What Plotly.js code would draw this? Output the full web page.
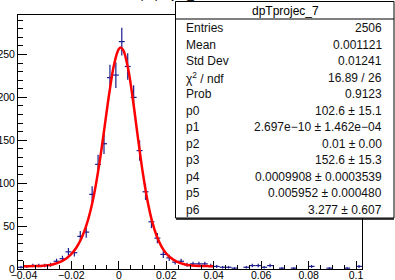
<!DOCTYPE html>
<html>
<head>
<meta charset="utf-8">
<script src="https://cdn.plot.ly/plotly-3.0.1.min.js"></script>
<style>html,body{margin:0;padding:0;background:#fff;}#chart{width:395px;height:280px;}</style>
</head>
<body>
<div id="chart"></div>
<script>
// Histogram definition (58 bins of width 0.0025 from -0.0425)
const binLow = -0.0425;
const binWidth = 0.0025;
const counts = [
  2, 3, 4, 4, 4, 5, 9, 12, 20, 19,
  38, 43, 87, 122, 146, 223, 226, 265, 236, 200,
  138, 90, 55, 36, 17, 13, 8, 9, 5, 6,
  6, 6, 4, 3, 2, 2, 1, 0, 2, 4,
  4, 2, 4, 0, 1, 0, 1, 0, 0, 3,
  0, 0, 1, 0, 0, 1, 0, 3
];

// Fit curve
const fitX = [-0.040,-0.038,-0.036,-0.034,-0.032,-0.030,-0.028,-0.026,-0.024,-0.022,
  -0.020,-0.018,-0.016,-0.014,-0.012,-0.010,-0.008,-0.006,-0.004,-0.002,
  0.000,0.001,0.002,0.004,0.006,0.008,0.010,0.012,0.014,0.016,
  0.018,0.020,0.022,0.024,0.026,0.028,0.030,0.032,0.034,0.036,0.038,0.040];
const fitY = [3.31,3.35,3.43,3.59,3.89,4.42,5.31,6.77,9.06,12.49,
  17.47,24.53,34.40,48.20,67.34,93.28,126.58,165.59,205.36,238.35,
  256.39,257.97,254.27,232.26,196.06,154.05,114.04,80.79,55.79,38.15,
  26.16,18.10,12.70,9.12,6.79,5.32,4.42,3.89,3.59,3.43,3.35,3.31];

const xTickVals = [-0.04,-0.02,0,0.02,0.04,0.06,0.08,0.1];
const xTickText = ["\u22120.04","\u22120.02","0","0.02","0.04","0.06","0.08","0.1"];
const yTickVals = [0,50,100,150,200,250];
const yTickText = ["0","50","100","150","200","250"];

const histTitle = "dpTprojec_7";
const statLabels = ["Entries","Mean","Std Dev","\u03C7<sup>2</sup> / ndf","Prob","p0","p1","p2","p3","p4","p5","p6"];
const statValues = ["2506","0.001121","0.01241","16.89 / 26","0.9123","102.6 \u00B1 15.1",
  "2.697e\u221210 \u00B1 1.462e\u221204","0.01 \u00B1 0.00","152.6 \u00B1 15.3",
  "0.0009908 \u00B1 0.0003539","0.005952 \u00B1 0.000480","3.277 \u00B1 0.607"];

// build point arrays from the histogram
const px = [], py = [], pe = [];
counts.forEach((c, k) => {
  if (c > 0) {
    px.push(binLow + binWidth * (k + 0.5));
    py.push(c);
    pe.push(Math.sqrt(c));
  }
});

// pixel -> paper helpers (plot area: x 18..362, y 15..269)
const L = 18, R = 33, T = 15, B = 11, W = 395, H = 280;
const pw = W - L - R, ph = H - T - B;
const X = p => (p - L) / pw;
const Y = p => (H - B - p) / ph;

const font = "Liberation Sans, Arial, Helvetica, sans-serif";
const dataColor = "#1c1c8c";

const traces = [
  {
    x: px, y: py, type: "scatter", mode: "markers",
    marker: {size: 1, opacity: 0, color: dataColor},
    error_y: {type: "data", array: pe, visible: true, width: 0, thickness: 1.2, color: dataColor},
    error_x: {type: "constant", value: binWidth / 2, visible: true, width: 0, thickness: 1.2, color: dataColor},
    hoverinfo: "skip", showlegend: false
  },
  {
    x: fitX, y: fitY, type: "scatter", mode: "lines",
    line: {color: "#ff0000", width: 2.5, shape: "spline"},
    hoverinfo: "skip", showlegend: false
  }
];

const annotations = [];
// truncated histogram title at top
annotations.push({xref: "paper", yref: "paper", x: X(167), y: Y(3), xanchor: "center", yanchor: "bottom",
  text: histTitle, showarrow: false, font: {family: font, size: 12, color: "#000"}});
// stats header
annotations.push({xref: "paper", yref: "paper", x: X(285), y: Y(10.5), xanchor: "center", yanchor: "middle",
  text: histTitle, showarrow: false, font: {family: font, size: 12, color: "#000"}});
const rowY0 = 28.3, rowStep = 16.5;
statLabels.forEach((lab, i) => {
  const yy = Y(rowY0 + rowStep * i);
  annotations.push({xref: "paper", yref: "paper", x: X(184), y: yy, xanchor: "left", yanchor: "middle",
    text: lab, showarrow: false, font: {family: font, size: 12, color: "#111"}});
  annotations.push({xref: "paper", yref: "paper", x: X(384), y: yy, xanchor: "right", yanchor: "middle",
    text: statValues[i], showarrow: false, font: {family: font, size: 12, color: "#111"}});
});

const shapes = [
  {type: "rect", xref: "paper", yref: "paper", x0: X(175.5), x1: X(394), y0: Y(218), y1: Y(1.5),
   fillcolor: "#fff", line: {color: "#000", width: 1}, layer: "above"},
  {type: "line", xref: "paper", yref: "paper", x0: X(175.5), x1: X(394), y0: Y(19), y1: Y(19),
   line: {color: "#000", width: 1}, layer: "above"},
  {type: "line", xref: "paper", yref: "paper", x0: X(176), x1: X(394), y0: Y(219), y1: Y(219),
   line: {color: "#000", width: 1.5}, layer: "above"}
];

const layout = {
  width: W, height: H,
  margin: {l: L, r: R, t: T, b: B, pad: 0},
  paper_bgcolor: "#fff", plot_bgcolor: "#fff",
  showlegend: false,
  xaxis: {
    range: [binLow, binLow + binWidth * counts.length],
    tickmode: "array", tickvals: xTickVals, ticktext: xTickText,
    ticks: "inside", ticklen: 8, tickwidth: 1, tickcolor: "#000",
    ticklabelstandoff: -4,
    minor: {tickmode: "linear", tick0: 0, dtick: 0.005, ticks: "inside", ticklen: 4, tickwidth: 1, tickcolor: "#000"},
    showline: true, linecolor: "#000", linewidth: 1, mirror: true,
    showgrid: false, zeroline: false,
    tickfont: {family: font, size: 10.5, color: "#000"}
  },
  yaxis: {
    range: [0, 296],
    tickmode: "array", tickvals: yTickVals, ticktext: yTickText,
    ticks: "inside", ticklen: 9, tickwidth: 1, tickcolor: "#000",
    minor: {tickmode: "linear", tick0: 0, dtick: 10, ticks: "inside", ticklen: 5, tickwidth: 1, tickcolor: "#000"},
    showline: true, linecolor: "#000", linewidth: 1, mirror: true,
    showgrid: false, zeroline: false,
    tickfont: {family: font, size: 10.5, color: "#000"}
  },
  annotations: annotations,
  shapes: shapes
};

Plotly.newPlot("chart", traces, layout, {staticPlot: true, displayModeBar: false});
</script>
</body>
</html>
